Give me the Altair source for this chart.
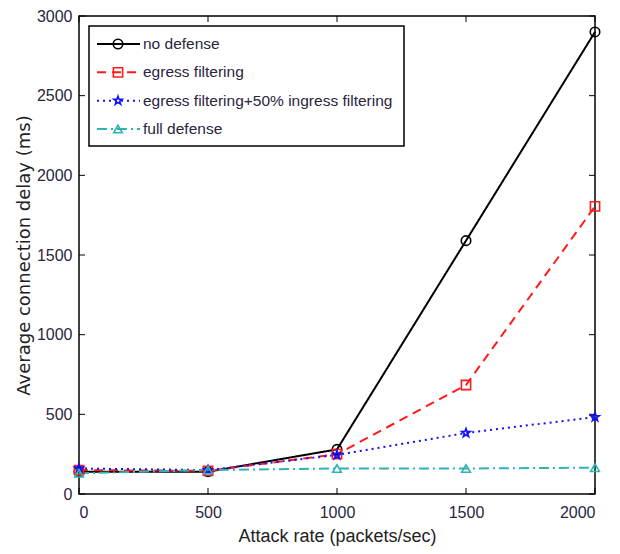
import altair as alt
import pandas as pd

# ---- data ----
rates = [0, 500, 1000, 1500, 2000]
series_names = [
    "no defense",
    "egress filtering",
    "egress filtering+50% ingress filtering",
    "full defense",
]
no_defense = [140, 140, 280, 1590, 2900]
egress = [150, 145, 250, 684, 1805]
egress_ingress = [160, 150, 245, 383, 483]
full_defense = [130, 150, 160, 160, 165]

x_ticks = [0, 500, 1000, 1500, 2000]
y_ticks = [0, 500, 1000, 1500, 2000, 2500, 3000]

colors = ["#000000", "#ff1a1a", "#1010ff", "#2fb3b3"]
dashes = [[1, 0], [9, 6], [2, 4], [10, 4, 2, 4]]
star = ("M0,-1L0.235,-0.324L0.951,-0.309L0.380,0.124L0.588,0.809L0,0.4"
        "L-0.588,0.809L-0.380,0.124L-0.951,-0.309L-0.235,-0.324Z")
shapes = ["circle", "square", star, "triangle-up"]
sizes = [90, 75, 220, 110]
fill_op = [0, 0, 1, 0]

rows = []
for name, vals in zip(series_names, [no_defense, egress, egress_ingress, full_defense]):
    for r, v in zip(rates, vals):
        rows.append({"series": name, "rate": r, "delay": v})
df = pd.DataFrame(rows)

W, H = 516, 478
FONT = "Liberation Sans"

col_scale = alt.Scale(domain=series_names, range=colors)
dash_scale = alt.Scale(domain=series_names, range=dashes)
shape_scale = alt.Scale(domain=series_names, range=shapes)
size_scale = alt.Scale(domain=series_names, range=sizes)
fop_scale = alt.Scale(domain=series_names, range=fill_op)

xs = alt.Scale(domain=[0, 2000], nice=False, zero=False)
ys = alt.Scale(domain=[0, 3000], nice=False)
XAX = alt.Axis(values=x_ticks, title="Attack rate (packets/sec)", format="d")
YAX = alt.Axis(values=y_ticks, title="Average connection delay (ms)", format="d")

base = alt.Chart(df)
lines = base.mark_line(strokeWidth=2).encode(
    x=alt.X("rate:Q", scale=xs, axis=XAX),
    y=alt.Y("delay:Q", scale=ys, axis=YAX),
    color=alt.Color("series:N", scale=col_scale, legend=None),
    strokeDash=alt.StrokeDash("series:N", scale=dash_scale, legend=None),
    detail="series:N",
)
points = base.mark_point(filled=True, strokeWidth=1.6, opacity=1).encode(
    x=alt.X("rate:Q", scale=xs, axis=XAX),
    y=alt.Y("delay:Q", scale=ys, axis=YAX),
    fill=alt.Fill("series:N", scale=col_scale, legend=None),
    stroke=alt.Stroke("series:N", scale=col_scale, legend=None),
    shape=alt.Shape("series:N", scale=shape_scale, legend=None),
    size=alt.Size("series:N", scale=size_scale, legend=None),
    fillOpacity=alt.FillOpacity("series:N", scale=fop_scale, legend=None),
)

xt = pd.DataFrame({"rate": x_ticks})
yt = pd.DataFrame({"delay": y_ticks})
xtick_b = alt.Chart(xt).mark_rule(color="black", strokeWidth=1).encode(
    x=alt.X("rate:Q", scale=xs, axis=XAX), y=alt.value(H), y2=alt.value(H - 6))
xtick_t = alt.Chart(xt).mark_rule(color="black", strokeWidth=1).encode(
    x=alt.X("rate:Q", scale=xs, axis=XAX), y=alt.value(0), y2=alt.value(6))
ytick_l = alt.Chart(yt).mark_rule(color="black", strokeWidth=1).encode(
    y=alt.Y("delay:Q", scale=ys, axis=YAX), x=alt.value(0), x2=alt.value(6))
ytick_r = alt.Chart(yt).mark_rule(color="black", strokeWidth=1).encode(
    y=alt.Y("delay:Q", scale=ys, axis=YAX), x=alt.value(W), x2=alt.value(W - 6))

main = alt.layer(lines, points, xtick_b, xtick_t, ytick_l, ytick_r)

# ---- legend ----
leg_df = pd.DataFrame({"series": series_names})
ly = alt.Y("series:N", scale=alt.Scale(type="point", domain=series_names,
                                       range=[28, 113], padding=0), axis=None)
box = alt.Chart(pd.DataFrame({"a": [0]})).mark_rect(
    fill="white", stroke="black", strokeWidth=1.5).encode(
    x=alt.value(10), x2=alt.value(325), y=alt.value(10), y2=alt.value(130))
leg_line = alt.Chart(leg_df).mark_rule(strokeWidth=2).encode(
    y=ly, x=alt.value(18), x2=alt.value(61),
    color=alt.Color("series:N", scale=col_scale, legend=None),
    strokeDash=alt.StrokeDash("series:N", scale=dash_scale, legend=None),
)
leg_pt = alt.Chart(leg_df).mark_point(filled=True, strokeWidth=1.6, opacity=1).encode(
    y=ly, x=alt.value(39),
    fill=alt.Fill("series:N", scale=col_scale, legend=None),
    stroke=alt.Stroke("series:N", scale=col_scale, legend=None),
    shape=alt.Shape("series:N", scale=shape_scale, legend=None),
    size=alt.Size("series:N", scale=size_scale, legend=None),
    fillOpacity=alt.FillOpacity("series:N", scale=fop_scale, legend=None),
)
leg_txt = alt.Chart(leg_df).mark_text(
    align="left", baseline="middle", font=FONT, fontSize=15.5, color="#2a2540").encode(
    y=ly, x=alt.value(64), text="series:N")
legend = alt.layer(box, leg_line, leg_pt, leg_txt)

chart = alt.layer(main, legend).resolve_scale(y="independent").properties(
    width=W, height=H,
    autosize=alt.AutoSizeParams(type="none"),
    padding={"left": 71, "top": 8, "right": 17, "bottom": 52},
).configure_view(stroke="black", strokeWidth=1.5).configure_axis(
    domain=False, ticks=False, grid=False,
    labelFont=FONT, labelFontSize=16, labelColor="#2a2540",
).configure_axisX(
    labelPadding=10, titleFont=FONT, titleFontSize=18, titleFontWeight="normal",
    titleColor="#222", titlePadding=7,
).configure_axisY(
    labelPadding=7, titleFont="DejaVu Sans", titleFontSize=18, titleFontWeight="normal",
    titleColor="#222", titlePadding=3,
)

chart.save("out.html", embed_options={"renderer": "svg", "actions": False})
